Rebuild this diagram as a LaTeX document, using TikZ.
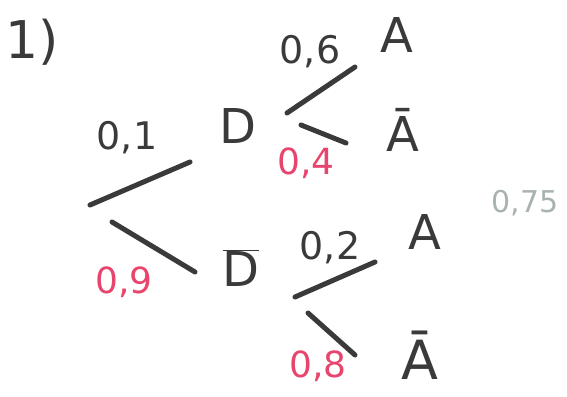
\documentclass[tikz,border=0pt]{standalone}
\usepackage{fontspec}
\setmainfont{DejaVu Sans}
\definecolor{ink}{HTML}{3A3A3A}
\definecolor{pinkink}{HTML}{E8456E}
\definecolor{greyink}{HTML}{A9B2B2}
\begin{document}
\begin{tikzpicture}[x=1pt,y=-1pt,
  branch/.style={draw=ink,line width=5pt,line cap=round},
  lab/.style={text=ink,font=\fontsize{38}{38}\selectfont,inner sep=0pt},
  big/.style={text=ink,font=\fontsize{48}{48}\selectfont,inner sep=0pt},
  plab/.style={text=pinkink,font=\fontsize{36}{36}\selectfont,inner sep=0pt},
  glab/.style={text=greyink,font=\fontsize{30}{30}\selectfont,inner sep=0pt}]
\useasboundingbox (0,0) rectangle (567,396);
\node[lab,font=\fontsize{52}{52}\selectfont] (num) at (32,42) {1)};
% first level
\node[lab] (p1) at (127,138) {0,1};
\node[plab] (p9) at (124,282) {0,9};
\node[big] (D) at (238,126) {D};
\node[big] (Db) at (241,268) {$\overline{\mbox{D}}$};
\coordinate (u1) at (90,205);
\coordinate (u2) at (190,162);
\coordinate (l1) at (112,222);
\coordinate (l2) at (195,272);
\draw[branch] (u1) -- (u2);
\draw[branch] (l1) -- (l2);
% second level upper
\node[lab] (p6) at (310,52) {0,6};
\node[plab] (p4) at (306,163) {0,4};
\node[big] (A1) at (397,35) {A};
\node[big] (Ab1) at (403,130) {Ā};
\coordinate (a1) at (287,113);
\coordinate (a2) at (355,67);
\coordinate (b1) at (301,125);
\coordinate (b2) at (346,143);
\draw[branch] (a1) -- (a2);
\draw[branch] (b1) -- (b2);
% second level lower
\node[lab] (p2) at (330,248) {0,2};
\node[plab] (p8) at (318,366) {0,8};
\node[big] (A2) at (425,232) {A};
\node[big,font=\fontsize{54}{54}\selectfont] (Ab2) at (420,355) {Ā};
\coordinate (c1) at (295,297);
\coordinate (c2) at (375,262);
\coordinate (d1) at (308,313);
\coordinate (d2) at (355,355);
\draw[branch] (c1) -- (c2);
\draw[branch] (d1) -- (d2);
% grey note
\node[glab] (g) at (525,203) {0,75};
\end{tikzpicture}
\end{document}
